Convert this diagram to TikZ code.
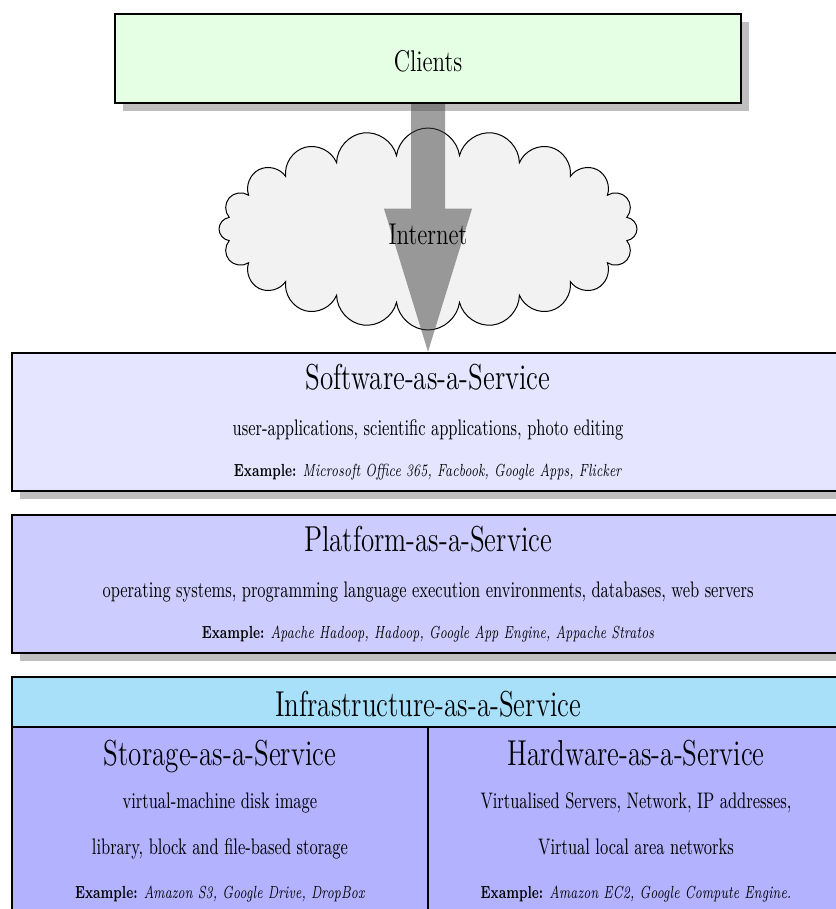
\documentclass[tikz,border=0pt]{standalone}
\usepackage{tikz}
\usetikzlibrary{shapes,shadows,calc,positioning}
\definecolor{iaasblue}{RGB}{168,224,250}

\begin{document}
\begin{tikzpicture}[x=1pt, y=1pt,
  layer/.style={rectangle, draw, line width=2.5pt, inner sep=0pt, minimum width=832pt},
  shadowed/.style={drop shadow={shadow xshift=8pt, shadow yshift=-8pt}},
  big label/.style={font=\fontsize{14.4}{17}\selectfont, xscale=1.88, yscale=2.5, anchor=base, inner sep=0pt},
  mid label/.style={font=\fontsize{12}{14}\selectfont, xscale=1.92, yscale=2.5, anchor=base, inner sep=0pt},
  text line/.style={font=\fontsize{9}{11}\selectfont, xscale=1.78, yscale=2.5, anchor=base, inner sep=0pt},
  example line/.style={font=\fontsize{7}{8}\selectfont, xscale=1.70, yscale=2.5, anchor=base, inner sep=0pt}]
\useasboundingbox (0,0) rectangle (835,-909);
% clients and the internet
\node[layer, shadowed, fill=green!10, minimum width=626pt, minimum height=89pt] (clients) at (428,-58.5) {};
\node[mid label] (clientstext) at (428,-72) {Clients};
\node[cloud, cloud puffs=20, cloud puff arc=165, aspect=2.07, draw, line width=1pt, fill=black!5, minimum width=418pt, minimum height=202pt] (internet) at (428,-229) {};
% service layers
\node[layer, shadowed, fill=blue!10, minimum height=138pt] (saas) at (428,-422) {};
\node[big label] (saastitle) at (428,-389) {Software-as-a-Service};
\node[text line] (saasuse) at (428,-435) {user-applications, scientific applications, photo editing};
\node[example line] (saasex) at (428,-476) {\textbf{Example:} \textit{Microsoft Office 365, Facbook, Google Apps, Flicker}};
\node[layer, shadowed, fill=blue!20, minimum height=138pt] (paas) at (428,-584) {};
\node[big label] (paastitle) at (428,-551) {Platform-as-a-Service};
\node[text line] (paasuse) at (428,-597) {operating systems, programming language execution environments, databases, web servers};
\node[example line] (paasex) at (428,-638) {\textbf{Example:} \textit{Apache Hadoop, Hadoop, Google App Engine, Appache Stratos}};
% infrastructure
\node[layer, fill=iaasblue, minimum height=50pt] (iaas) at (428,-702) {};
\node[big label] (iaastitle) at (428,-716) {Infrastructure-as-a-Service};
\node[layer, fill=blue!30, minimum width=416pt, minimum height=189pt] (staas) at (220,-821.5) {};
\node[layer, fill=blue!30, minimum width=416pt, minimum height=189pt] (haas) at (636,-821.5) {};
\node[big label] (staastitle) at (220,-765) {Storage-as-a-Service};
\node[text line] (staasuse) at (220,-808) {virtual-machine disk image};
\node[text line] (staasuse2) at (220,-854) {library, block and file-based storage};
\node[example line] (staasex) at (220,-898) {\textbf{Example:} \textit{Amazon S3, Google Drive, DropBox}};
\node[big label] (haastitle) at (636,-765) {Hardware-as-a-Service};
\node[text line] (haasuse) at (636,-808) {Virtualised Servers, Network, IP addresses,};
\node[text line] (haasuse2) at (636,-854) {Virtual local area networks};
\node[example line] (haasex) at (636,-898) {\textbf{Example:} \textit{Amazon EC2, Google Compute Engine.}};
% big arrow from the clients down to the services
\fill[black!75, fill opacity=.5] ($(clients.south)+(-17,0)$) -- ($(saas.north)+(-17,143)$) -- ($(saas.north)+(-44,143)$) -- (saas.north) -- ($(saas.north)+(44,143)$) -- ($(saas.north)+(17,143)$) -- ($(clients.south)+(17,0)$) -- cycle;
\node[mid label] (internettext) at (428,-244) {Internet};
\end{tikzpicture}
\end{document}
